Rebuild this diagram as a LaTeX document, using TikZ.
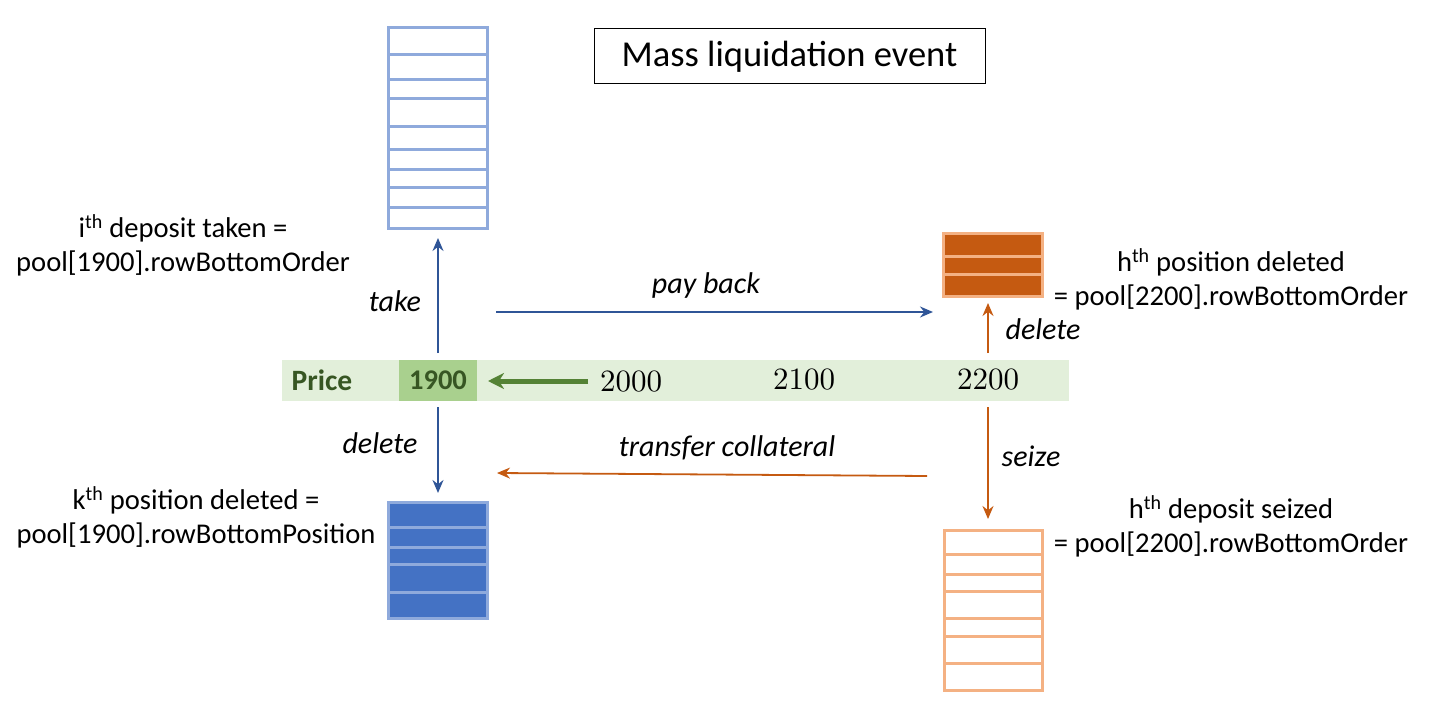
\documentclass[tikz,border=0pt]{standalone}
\usepackage{fontspec}
\setmainfont{Carlito}
\newfontfamily\numfont{lmroman10-regular.otf}
\usetikzlibrary{arrows.meta}
\definecolor{lblue}{HTML}{8FAADC}
\definecolor{mblue}{HTML}{4472C4}
\definecolor{ablue}{HTML}{2F5597}
\definecolor{dorange}{HTML}{C55A11}
\definecolor{lorange}{HTML}{F4B183}
\definecolor{bandgreen}{HTML}{E2EFDA}
\definecolor{cellgreen}{HTML}{A9D08E}
\definecolor{dgreen}{HTML}{375623}
\definecolor{agreen}{HTML}{548235}
\tikzset{
  stackbox/.style={rectangle, line width=3pt, inner sep=0pt, outer sep=0pt},
  bluearrow/.style={ablue, line width=1.8pt, -{Stealth[length=13pt, width=11pt]}},
  orangearrow/.style={dorange, line width=1.8pt, -{Stealth[length=13pt, width=11pt]}},
  lbl/.style={font=\fontsize{28.6}{34}\selectfont, align=center, inner sep=0pt},
  act/.style={font=\fontsize{30}{34}\selectfont\itshape, inner sep=0pt},
  num/.style={font=\fontsize{31}{34}\selectfont\numfont, inner sep=0pt}
}
\begin{document}
\begin{tikzpicture}[x=1pt, y=-1pt]
\useasboundingbox (0,0) rectangle (1435,714);

% title
\node[draw, line width=1pt, minimum width=391pt, minimum height=55pt, inner sep=0pt,
  font=\fontsize{36.5}{40}\selectfont] (title) at (789.5,56.5) {Mass liquidation event};

% price line
\node[fill=bandgreen, minimum width=787pt, minimum height=41pt, inner sep=0pt] (band) at (675.5,380.5) {};
\node[fill=cellgreen, minimum width=78pt, minimum height=41pt, inner sep=0pt, text=dgreen,
  font=\fontsize{28.5}{30}\selectfont\bfseries] (p1900) at (438,380.5) {1900};
\node[text=dgreen, font=\fontsize{29.5}{30}\selectfont\bfseries, inner sep=0pt] (price) at (322,380) {Price};
\node[num] (p2000) at (631,382) {2000};
\node[num] (p2100) at (804,380) {2100};
\node[num] (p2200) at (988,380) {2200};
\coordinate (gtail) at (588,381);
\coordinate (gtip) at (488,381);
\draw[agreen, line width=5pt, -{Stealth[length=16pt, width=16pt, inset=5pt]}] (gtail) -- (gtip);

% top blue stack (deposits)
\node[stackbox, draw=lblue, minimum width=99pt, minimum height=201pt] (deposits) at (438,128.5) {};
\foreach \y in {55,80,99,127,150,170,188,208}
  \draw[lblue, line width=3pt] (deposits.west |- 0,\y) -- (deposits.east |- 0,\y);

% bottom blue stack (positions)
\node[stackbox, draw=lblue, fill=mblue, minimum width=99pt, minimum height=116pt] (positions) at (438,560) {};
\foreach \y in {527,547,564,592}
  \draw[lblue, line width=3pt] (positions.west |- 0,\y) -- (positions.east |- 0,\y);

% top orange stack (positions at 2200)
\node[stackbox, draw=lorange, fill=dorange, minimum width=99pt, minimum height=62pt] (hpositions) at (992.5,265) {};
\foreach \y in {256,274}
  \draw[lorange, line width=3pt] (hpositions.west |- 0,\y) -- (hpositions.east |- 0,\y);

% bottom orange stack (deposits at 2200)
\node[stackbox, draw=lorange, minimum width=98pt, minimum height=160pt] (hdeposits) at (993,610) {};
\foreach \y in {554,574,591,618,636,663}
  \draw[lorange, line width=3pt] (hdeposits.west |- 0,\y) -- (hdeposits.east |- 0,\y);

% arrows
\draw[bluearrow] (438,353) -- (deposits.south |- 0,238);
\draw[bluearrow] (438,407) -- (positions.north |- 0,493);
\coordinate (payS) at (496,312);
\coordinate (payE) at (933,312);
\draw[bluearrow] (payS) -- (payE);
\coordinate (trS) at (927,476);
\coordinate (trE) at (497,473);
\draw[orangearrow] (trS) -- (trE);
\draw[orangearrow] (988,353) -- (988,303);
\draw[orangearrow] (988,407) -- (988,519);

% arrow labels
\node[act] (ltake) at (395,301) {take};
\node[act] (lpay) at (706,286) {pay back};
\node[act] (ldel1) at (380,443) {delete};
\node[act] (ltr) at (727,448) {transfer collateral};
\node[act] (ldel2) at (1043,329) {delete};
\node[act] (lseize) at (1031,456) {seize};

% side texts
\node[lbl] (itaken) at (183,245) {i\textsuperscript{th} deposit taken =\\pool[1900].rowBottomOrder};
\node[lbl] (kdel) at (196,517) {k\textsuperscript{th} position deleted =\\pool[1900].rowBottomPosition};
\node[lbl] (hdel) at (1231,279) {h\textsuperscript{th} position deleted\\= pool[2200].rowBottomOrder};
\node[lbl] (hseize) at (1231,526) {h\textsuperscript{th} deposit seized\\= pool[2200].rowBottomOrder};
\end{tikzpicture}
\end{document}
